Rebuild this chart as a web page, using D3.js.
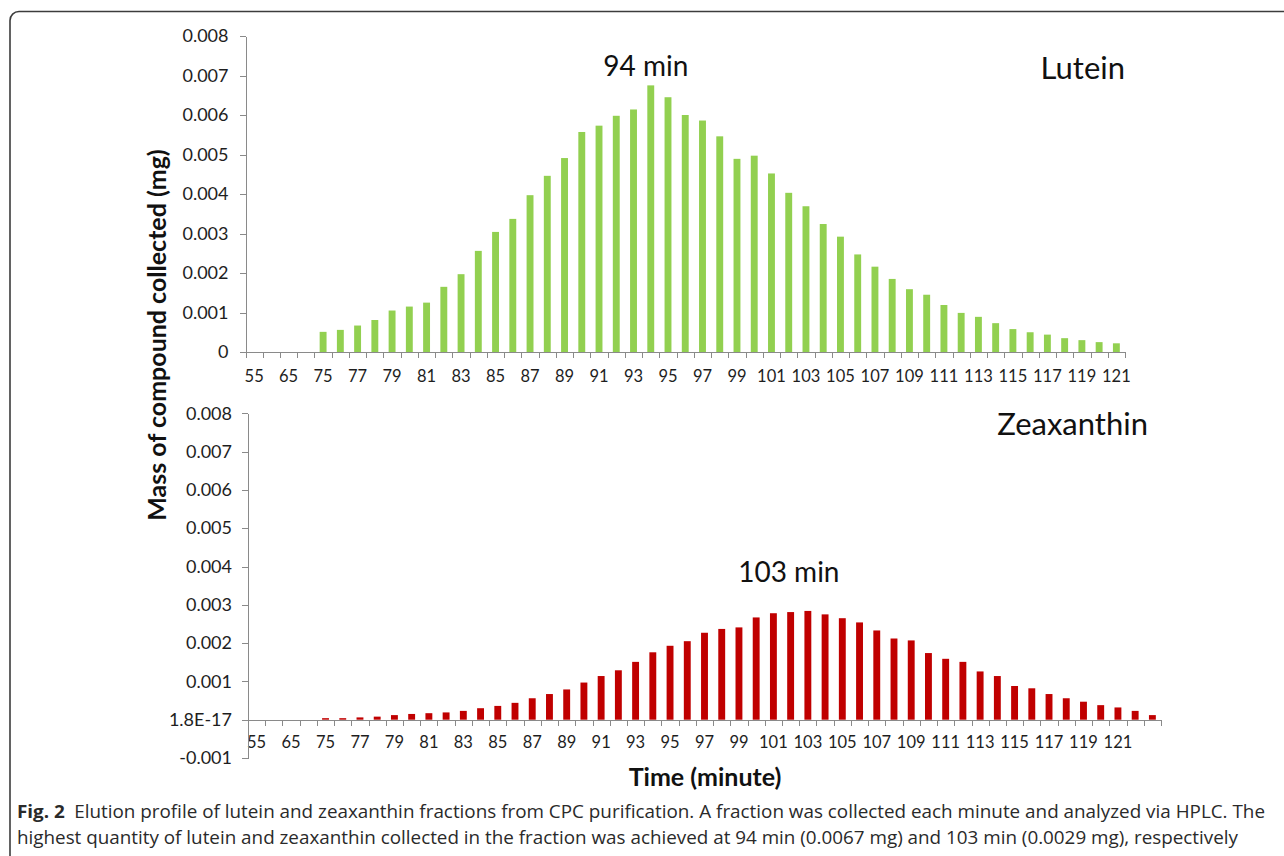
<!DOCTYPE html>
<html lang="en">
<head>
<meta charset="utf-8" />
<title>Elution profile of lutein and zeaxanthin</title>
<script src="https://d3js.org/d3.v7.min.js"></script>
<style>
  body{margin:0;background:#fff;}
  svg{display:block;font-family:Lato,"Open Sans",sans-serif;}
  .axis path,.axis line{stroke:#8a8a8a;stroke-width:1;shape-rendering:crispEdges;}
  .axis text{fill:#1e1e1e;font-size:18px;font-family:Lato,sans-serif;}
  .axis.xlab text{font-size:16.5px;}
  .note{fill:#111;font-family:Lato,sans-serif;}
  .title{fill:#111;font-family:Lato,sans-serif;font-weight:700;}
  .caption{fill:#2a2a2a;font-family:"Open Sans",sans-serif;font-size:17.5px;}
</style>
</head>
<body>
<svg id="chart" width="1284" height="856"></svg>
<script>
// -------------- DATA --------------
const LUTEIN_TIMES=[55,60,65,70,75,76,77,78,79,80,81,82,83,84,85,86,87,88,89,90,91,92,93,94,95,96,97,98,99,100,
  101,102,103,104,105,106,107,108,109,110,111,112,113,114,115,116,117,118,119,120,121];
const LUTEIN_MG=[null,null,null,null,
  0.00051,0.00056,0.00067,0.00081,0.00105,0.00115,0.00125,0.00165,0.00197,0.00256,
  0.00304,0.00337,0.00397,0.00446,0.00491,0.00557,0.00573,0.00598,0.00614,0.00675,
  0.00645,0.00600,0.00586,0.00546,0.00489,0.00497,0.00452,0.00403,0.00369,0.00324,
  0.00292,0.00247,0.00216,0.00185,0.00159,0.00145,0.00119,0.00099,0.00089,0.00073,
  0.00058,0.00050,0.00044,0.00035,0.00030,0.00025,0.00022];

const ZEA_TIMES=[55,60,65,70,75,76,77,78,79,80,81,82,83,84,85,86,87,88,89,90,91,92,93,94,95,96,97,98,99,100,
  101,102,103,104,105,106,107,108,109,110,111,112,113,114,115,116,117,118,119,120,121,122,123];
const ZEA_MG=[null,null,null,null,
  0.00004,0.00004,0.00006,0.00008,0.00012,0.00015,0.00017,0.00019,0.00023,0.00030,
  0.00036,0.00044,0.00056,0.00067,0.00079,0.00097,0.00114,0.00129,0.00151,0.00176,
  0.00193,0.00205,0.00227,0.00237,0.00241,0.00267,0.00278,0.00281,0.00284,0.00275,
  0.00265,0.00254,0.00233,0.00212,0.00207,0.00174,0.00159,0.00151,0.00126,0.00114,
  0.00088,0.00082,0.00067,0.00056,0.00047,0.00038,0.00032,0.00023,0.00012];

// category labels shown under the axis (every other slot)
const LUTEIN_XLABELS=['55','65','75','77','79','81','83','85','87','89','91','93','95','97','99',
  '101','103','105','107','109','111','113','115','117','119','121'];
const ZEA_XLABELS=['55','65','75','77','79','81','83','85','87','89','91','93','95','97','99',
  '101','103','105','107','109','111','113','115','117','119','121'];

const LUTEIN_YTICKS=[0,0.001,0.002,0.003,0.004,0.005,0.006,0.007,0.008];
const LUTEIN_YLABELS=['0','0.001','0.002','0.003','0.004','0.005','0.006','0.007','0.008'];
const ZEA_YTICKS=[-0.001,0,0.001,0.002,0.003,0.004,0.005,0.006,0.007,0.008];
const ZEA_YLABELS=['-0.001','1.8E-17','0.001','0.002','0.003','0.004','0.005','0.006','0.007','0.008'];

const GREEN='#92d050', RED='#c00000';

const svg=d3.select('#chart');

// figure frame (rounded, runs off the right and bottom edges)
svg.append('rect').attr('x',10).attr('y',11.5).attr('width',1320).attr('height',900)
  .attr('rx',9).attr('fill','none').attr('stroke','#3c3c3c').attr('stroke-width',1.6);

// -------------- PANEL --------------
function panel(cfg){
  const n=cfg.times.length;
  const x=d3.scaleBand().domain(cfg.times).range([cfg.left,cfg.right]).paddingInner(0.6).paddingOuter(0.3);
  const slot=d3.scaleLinear().domain([0,n]).range([cfg.left,cfg.right]);
  const y=d3.scaleLinear().domain([cfg.ymin,0.008]).range([cfg.bottom,cfg.top]);
  const y0=y(0);
  const g=svg.append('g');

  // bars
  const rows=cfg.times.map((t,i)=>({t,v:cfg.values[i]})).filter(d=>d.v!=null);
  g.selectAll('rect.bar').data(rows).enter().append('rect').attr('class','bar')
    .attr('x',d=>x(d.t)).attr('width',x.bandwidth())
    .attr('y',d=>y(d.v)).attr('height',d=>y0-y(d.v))
    .attr('fill',cfg.color);

  // x axis: tick marks between categories
  g.append('g').attr('class','axis').attr('transform',`translate(0,${y0})`)
    .call(d3.axisBottom(slot).tickValues(d3.range(n+1)).tickFormat('').tickSize(6).tickSizeOuter(0));
  // x axis: category labels
  const lab=g.append('g').attr('class','axis xlab').attr('transform',`translate(0,${y0})`)
    .call(d3.axisBottom(x).tickValues(cfg.xlabels.map(Number)).tickSize(0).tickPadding(cfg.xpad));
  lab.select('.domain').remove();

  // y axis
  g.append('g').attr('class','axis').attr('transform',`translate(${cfg.left},0)`)
    .call(d3.axisLeft(y).tickValues(cfg.yticks).tickFormat((d,i)=>cfg.ylabels[i])
      .tickSize(6).tickPadding(cfg.ypad).tickSizeOuter(0));

  // peak annotation
  const pk=cfg.times.indexOf(cfg.peak);
  g.append('text').attr('class','note').attr('text-anchor','middle')
    .attr('x',x(cfg.peak)+x.bandwidth()/2+cfg.peakDx)
    .attr('y',y(cfg.values[pk])+cfg.peakDy)
    .style('font-size','28px').text(cfg.peak+' min');

  // compound name
  g.append('text').attr('class','note').attr('text-anchor','end')
    .attr('x',cfg.nameX).attr('y',cfg.nameY).style('font-size','31px').text(cfg.name);
}

panel({times:LUTEIN_TIMES,values:LUTEIN_MG,xlabels:LUTEIN_XLABELS,yticks:LUTEIN_YTICKS,ylabels:LUTEIN_YLABELS,
  color:GREEN,left:245.5,right:1125,top:36,bottom:352,ymin:0,xpad:18,ypad:11,
  peak:94,peakDx:-5,peakDy:-9,name:'Lutein',nameX:1125,nameY:79});

panel({times:ZEA_TIMES,values:ZEA_MG,xlabels:ZEA_XLABELS,yticks:ZEA_YTICKS,ylabels:ZEA_YLABELS,
  color:RED,left:248,right:1161,top:413.3,bottom:758,ymin:-0.001,xpad:16.8,ypad:10,
  peak:103,peakDx:-19,peakDy:-29,name:'Zeaxanthin',nameX:1148,nameY:435});

// axis titles
svg.append('text').attr('class','title').attr('text-anchor','middle')
  .attr('transform','translate(166,335) rotate(-90)').style('font-size','25px')
  .text('Mass of compound collected (mg)');
svg.append('text').attr('class','title').attr('text-anchor','middle')
  .attr('x',705).attr('y',786).style('font-size','25px').text('Time (minute)');

// caption
const c1=svg.append('text').attr('class','caption').attr('x',17).attr('y',818)
  .attr('textLength',1248).attr('lengthAdjust','spacingAndGlyphs');
c1.append('tspan').style('font-weight','700').text('Fig. 2');
c1.append('tspan').text('\u2002Elution profile of lutein and zeaxanthin fractions from CPC purification. A fraction was collected each minute and analyzed via HPLC. The');
svg.append('text').attr('class','caption').attr('x',17).attr('y',844)
  .attr('textLength',1221).attr('lengthAdjust','spacingAndGlyphs')
  .text('highest quantity of lutein and zeaxanthin collected in the fraction was achieved at 94 min (0.0067 mg) and 103 min (0.0029 mg), respectively');
</script>
</body>
</html>
